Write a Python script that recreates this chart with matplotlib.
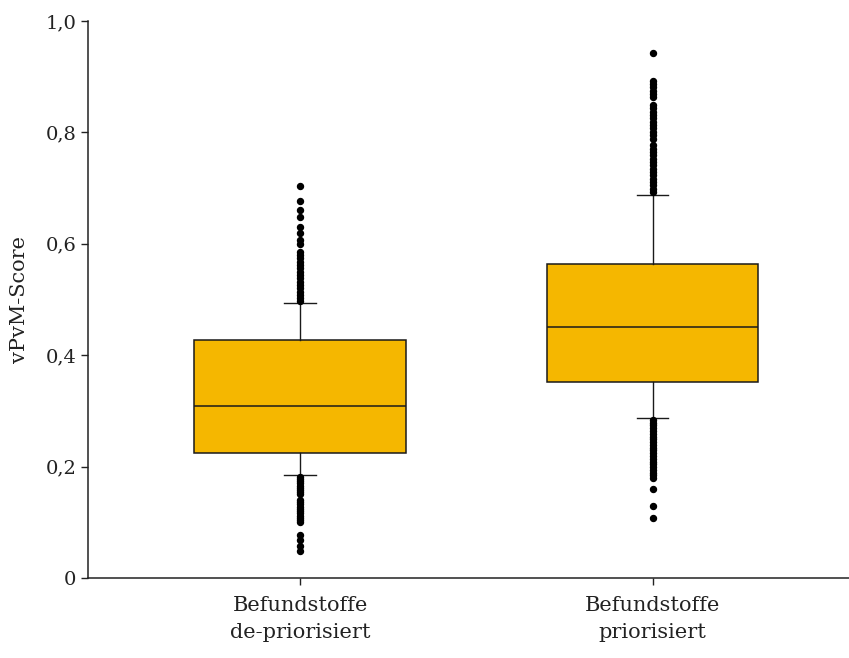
import matplotlib
matplotlib.use("Agg")
import matplotlib.pyplot as plt
from matplotlib.ticker import FuncFormatter

# box statistics
categories = ["Befundstoffe\nde-priorisiert", "Befundstoffe\npriorisiert"]
medians = [0.309, 0.451]
q1s = [0.225, 0.351]
q3s = [0.427, 0.564]
whisker_lo = [0.184, 0.287]
whisker_hi = [0.494, 0.688]

# outliers (estimated from the dots)
fliers_depri = [0.704, 0.676, 0.661, 0.648, 0.631, 0.619, 0.606, 0.600, 0.586,
                0.580, 0.574, 0.568, 0.562, 0.556, 0.550, 0.544, 0.538, 0.532,
                0.526, 0.520, 0.514, 0.508, 0.502, 0.497,
                0.182, 0.178, 0.174, 0.170, 0.166, 0.162, 0.158, 0.154, 0.150,
                0.140, 0.136, 0.132, 0.128, 0.124, 0.120, 0.116, 0.112, 0.108,
                0.104, 0.100, 0.077, 0.068, 0.058, 0.049]
fliers_pri = [0.942, 0.893, 0.887, 0.881, 0.875, 0.869, 0.863, 0.849,
              0.843, 0.837, 0.831, 0.825, 0.819, 0.813, 0.807, 0.801, 0.795,
              0.789, 0.777, 0.771, 0.765, 0.759, 0.753, 0.747, 0.741,
              0.735, 0.729, 0.723, 0.717, 0.711, 0.705, 0.699, 0.693,
              0.284, 0.279, 0.274, 0.269, 0.264, 0.259, 0.254, 0.249, 0.244,
              0.239, 0.234, 0.229, 0.224, 0.219, 0.214, 0.209, 0.204, 0.199,
              0.194, 0.189, 0.184, 0.179, 0.159, 0.130, 0.107]
fliers = [fliers_depri, fliers_pri]

yticks = [0, 0.2, 0.4, 0.6, 0.8, 1.0]
box_color = "#F5B700"

stats = []
for i in range(len(categories)):
    stats.append({
        "med": medians[i], "q1": q1s[i], "q3": q3s[i],
        "whislo": whisker_lo[i], "whishi": whisker_hi[i],
        "fliers": fliers[i], "label": categories[i],
    })

plt.rcParams['font.family'] = ['DejaVu Serif']

fig = plt.figure(figsize=(8.49, 6.58), dpi=100)
ax = fig.add_axes([0.1037, 0.1216, 0.8963, 0.8465])

ax.bxp(stats, positions=[1, 2], widths=0.6, capwidths=0.09, patch_artist=True,
       boxprops=dict(facecolor=box_color, edgecolor="#1a1a1a", linewidth=1.1),
       medianprops=dict(color="#1a1a1a", linewidth=1.1),
       whiskerprops=dict(color="#1a1a1a", linewidth=1.0),
       capprops=dict(color="#1a1a1a", linewidth=1.0),
       flierprops=dict(marker="o", markerfacecolor="black", markeredgecolor="black",
                       markersize=4.3, linestyle="none"))

ax.set_xlim(0.3986, 2.557)
ax.set_ylim(0, 1.0)
ax.set_yticks(yticks)
ax.yaxis.set_major_formatter(FuncFormatter(lambda v, p: "0" if v == 0 else f"{v:.1f}".replace(".", ",")))
ax.set_xticks([1, 2])
ax.set_xticklabels(categories, linespacing=1.55)

for s in ["top", "right"]:
    ax.spines[s].set_visible(False)
for s in ["left", "bottom"]:
    ax.spines[s].set_linewidth(1.1)
    ax.spines[s].set_color("#222222")

ax.tick_params(axis="y", labelsize=14, length=5, width=1.0, colors="#222222")
ax.tick_params(axis="x", labelsize=15, length=5, width=1.0, colors="#222222", pad=8)
ax.set_ylabel("vPvM-Score", fontsize=15, color="#222222", labelpad=12)

fig.savefig("out.png", dpi=100)
